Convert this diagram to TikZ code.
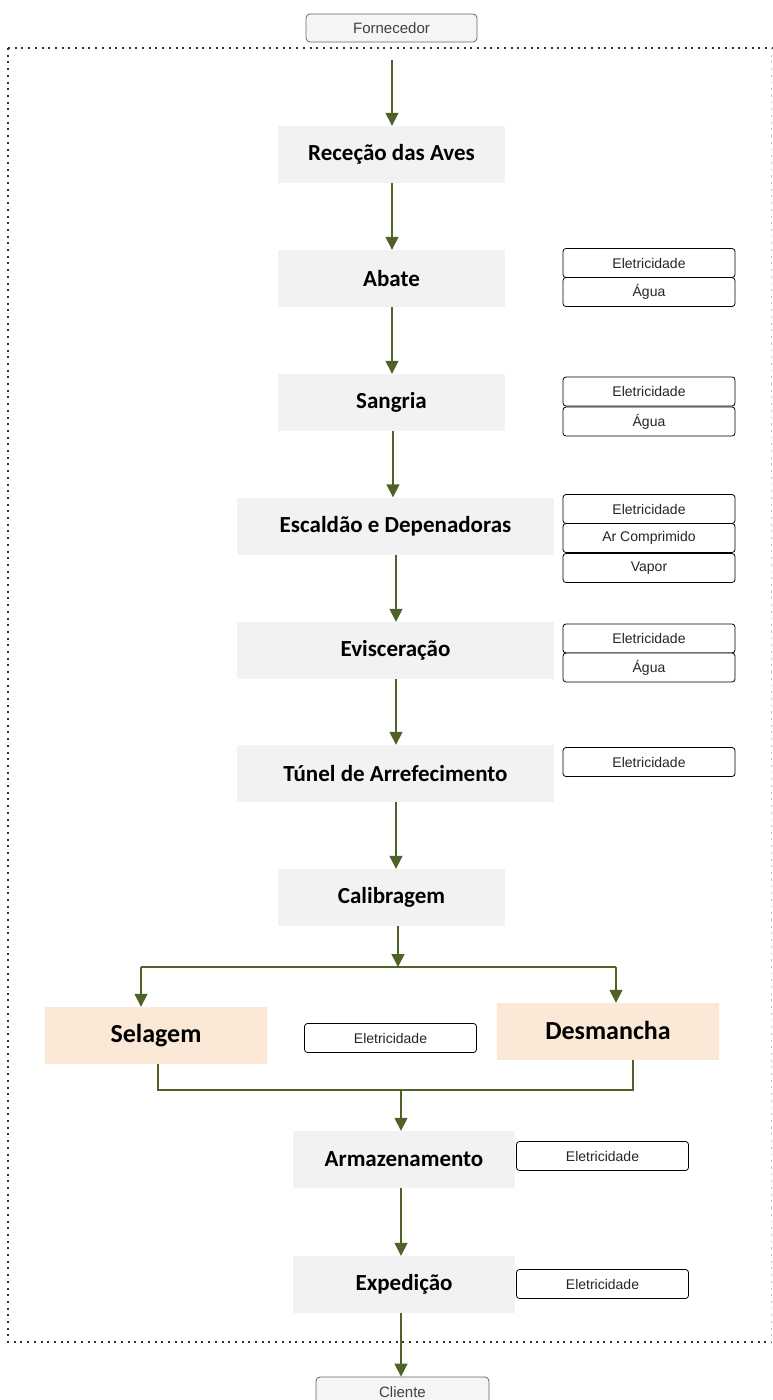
\documentclass[tikz,border=0pt]{standalone}
\usepackage{fontspec}
\setmainfont{Carlito}
\newfontfamily\arialf{Liberation Sans}
\usetikzlibrary{arrows.meta}
\definecolor{olive}{RGB}{79,98,40}
\definecolor{stepgray}{RGB}{242,242,242}
\definecolor{peach}{RGB}{252,232,214}
\definecolor{termfill}{RGB}{245,245,245}
\definecolor{termdraw}{RGB}{102,102,102}
\tikzset{
  stepbox/.style={fill=stepgray, draw=none, minimum height=57pt, inner sep=0pt,
    font=\bfseries\fontsize{23}{26}\selectfont, text=black},
  bigbox/.style={fill=peach, draw=none, minimum width=222pt, minimum height=57pt, inner sep=0pt,
    font=\bfseries\fontsize{26}{30}\selectfont, text=black},
  resbox/.style={fill=white, draw=black, line width=0.8pt, rounded corners=3pt,
    minimum width=172pt, minimum height=29pt, inner sep=0pt,
    font=\arialf\fontsize{14}{16}\selectfont, text=black!85},
  termbox/.style={fill=termfill, draw=termdraw, line width=0.8pt, rounded corners=4pt,
    minimum width=172pt, minimum height=29pt, inner sep=0pt,
    font=\arialf\fontsize{15}{17}\selectfont, text=black!75},
  arr/.style={draw=olive, line width=1.6pt, -{Triangle[length=13pt,width=13pt]}, fill=olive},
  conn/.style={draw=olive, line width=1.6pt},
  frame/.style={draw=black!80, line width=2pt, dash pattern=on 2pt off 4.7pt}
}
\begin{document}
\begin{tikzpicture}[x=1pt,y=-1pt]
\useasboundingbox (0,0) rectangle (773,1400);
% frame
\draw[frame] (8,48) -- (772,48);
\draw[frame] (8,48) -- (8,1342) -- (772,1342);
\draw[draw=black!25, line width=1.8pt, dash pattern=on 1.8pt off 4.9pt] (771.5,48) -- (771.5,1342);

% terminals
\node[termbox, minimum width=171pt, minimum height=28pt] (forn) at (391.5,28) {Fornecedor};
\node[termbox, minimum width=173pt, minimum height=30pt] (cli) at (402.5,1392) {Cliente};

% steps
\node[stepbox, minimum width=227pt] (rec) at (391.5,154.5) {Receção das Aves};
\node[stepbox, minimum width=227pt] (aba) at (391.5,278.5) {Abate};
\node[stepbox, minimum width=227pt] (san) at (391.5,402.5) {Sangria};
\node[stepbox, minimum width=317pt] (esc) at (395.5,526) {Escaldão e Depenadoras};
\node[stepbox, minimum width=317pt] (evi) at (395.5,650.5) {Evisceração};
\node[stepbox, minimum width=317pt] (tun) at (395.5,773.5) {Túnel de Arrefecimento};
\node[stepbox, minimum width=227pt] (cal) at (391.5,897.5) {Calibragem};
\node[bigbox] (sel) at (156,1035.5) {Selagem};
\node[bigbox] (des) at (608,1031.5) {\raisebox{2pt}{Desmancha}};
\node[stepbox, minimum width=222pt] (arm) at (404,1159.5) {Armazenamento};
\node[stepbox, minimum width=222pt] (exp) at (404,1284.5) {Expedição};

% resources
\node[resbox] (abaE) at (649,263) {Eletricidade};
\node[resbox] (abaA) at (649,292) {Água};
\node[resbox] (sanE) at (649,391.5) {Eletricidade};
\node[resbox] (sanA) at (649,421.5) {Água};
\node[resbox] (escE) at (649,509) {Eletricidade};
\node[resbox] (escA) at (649,538) {Ar Comprimido};
\node[resbox] (escV) at (649,568) {Vapor};
\node[resbox] (eviE) at (649,638.5) {Eletricidade};
\node[resbox] (eviA) at (649,667.5) {Água};
\node[resbox] (tunE) at (649,762) {Eletricidade};
\node[resbox] (midE) at (390.5,1038) {Eletricidade};
\node[resbox] (armE) at (602.5,1156) {Eletricidade};
\node[resbox] (expE) at (602.5,1284) {Eletricidade};

% coordinates
\coordinate (top) at (392,60);
\coordinate (xa) at (392,0);
\coordinate (xb) at (393,0);
\coordinate (xc) at (396,0);
\coordinate (br) at (398,967);
\coordinate (brL) at (141,967);
\coordinate (brR) at (616,967);
\coordinate (jL) at (158,1090);
\coordinate (jR) at (633,1090);
\coordinate (jM) at (401,1090);

% arrows
\draw[arr] (top) -- (top |- rec.north);
\draw[arr] (rec.south -| xa) -- (aba.north -| xa);
\draw[arr] (aba.south -| xa) -- (san.north -| xa);
\draw[arr] (san.south -| xb) -- (esc.north -| xb);
\draw[arr] (esc.south -| xc) -- (evi.north -| xc);
\draw[arr] (evi.south -| xc) -- (tun.north -| xc);
\draw[arr] (tun.south -| xc) -- (cal.north -| xc);
\draw[arr] (cal.south -| br) -- (br);
\draw[conn] (brL) -- (brR);
\draw[arr] (brL) -- (brL |- sel.north);
\draw[arr] (brR) -- (brR |- des.north);
\draw[conn] (jL |- sel.south) -- (jL) -- (jR) -- (jR |- des.south);
\draw[arr] (jM) -- (jM |- arm.north);
\draw[arr] (arm.south -| jM) -- (jM |- exp.north);
\draw[arr] (exp.south -| jM) -- (jM |- cli.north);
\end{tikzpicture}
\end{document}
